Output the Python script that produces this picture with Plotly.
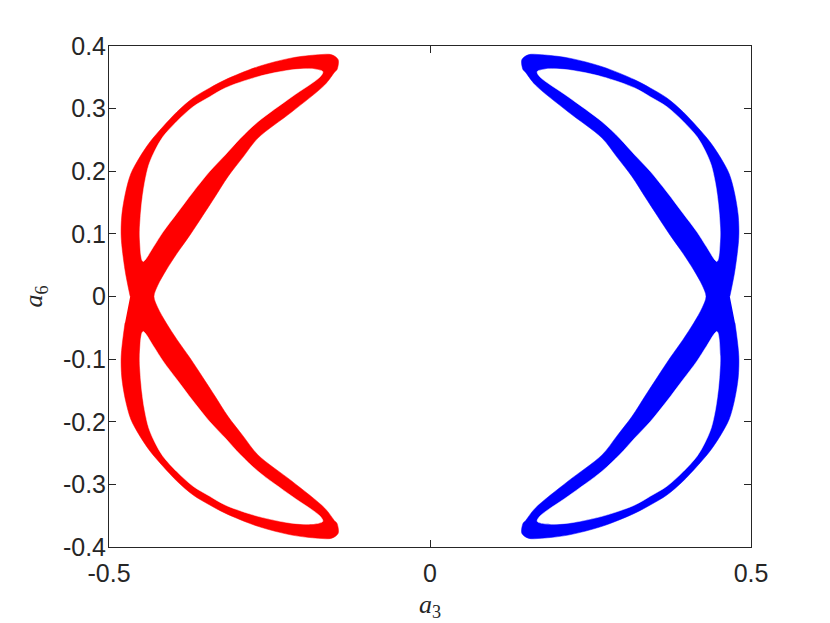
import plotly.graph_objects as go

# Outer silhouette of the red (a3<0) trajectory band, upper half (a6>=0),
# traced from the left notch at the crossing to the right notch.
red_outer_x = [-0.467, -0.475, -0.481, -0.480, -0.474, -0.466, -0.453, -0.436, -0.416, -0.394,
               -0.369, -0.343, -0.319, -0.268, -0.215, -0.174, -0.153, -0.143, -0.145, -0.148,
               -0.164, -0.215, -0.268, -0.291, -0.315, -0.335, -0.354, -0.374, -0.394, -0.411,
               -0.424, -0.430]
red_outer_y = [0.000, 0.042, 0.095, 0.130, 0.167, 0.196, 0.221, 0.247, 0.271, 0.295,
               0.317, 0.333, 0.346, 0.367, 0.381, 0.386, 0.386, 0.378, 0.362, 0.359,
               0.338, 0.295, 0.253, 0.223, 0.191, 0.159, 0.129, 0.098, 0.069, 0.042,
               0.018, 0.000]

# Inner (empty) loop of the upper lobe
red_hole_x = [-0.447, -0.452, -0.450, -0.445, -0.438, -0.428, -0.416, -0.394, -0.369, -0.343,
              -0.319, -0.268, -0.215, -0.179, -0.167, -0.171, -0.215, -0.268, -0.296, -0.319,
              -0.343, -0.369, -0.394, -0.416, -0.431, -0.447]
red_hole_y = [0.056, 0.095, 0.138, 0.178, 0.210, 0.234, 0.255, 0.280, 0.303, 0.319,
              0.333, 0.351, 0.362, 0.363, 0.359, 0.351, 0.319, 0.279, 0.252, 0.226,
              0.200, 0.167, 0.133, 0.103, 0.079, 0.056]

x_ticks = [-0.5, 0, 0.5]
x_tick_text = ["-0.5", "0", "0.5"]
y_ticks = [-0.4, -0.3, -0.2, -0.1, 0, 0.1, 0.2, 0.3, 0.4]
y_tick_text = ["-0.4", "-0.3", "-0.2", "-0.1", "0", "0.1", "0.2", "0.3", "0.4"]


def full_outline(xs, ys):
    # upper half, then the lower half (mirror in a6) traversed back
    fx = list(xs) + [x for x in reversed(xs[1:-1])]
    fy = list(ys) + [-y for y in reversed(ys[1:-1])]
    return fx, fy


fig = go.Figure()

for sign, color in [(1, "#ff0000"), (-1, "#0000ff")]:
    ox, oy = full_outline(red_outer_x, red_outer_y)
    fig.add_trace(go.Scatter(x=[sign * v for v in ox], y=oy, mode="lines",
                             fill="toself", fillcolor=color,
                             line=dict(color=color, width=0.5, shape="spline", smoothing=0.9),
                             hoverinfo="skip", showlegend=False))
    for ysign in (1, -1):
        fig.add_trace(go.Scatter(x=[sign * v for v in red_hole_x],
                                 y=[ysign * v for v in red_hole_y], mode="lines",
                                 fill="toself", fillcolor="white",
                                 line=dict(color="white", width=0.5, shape="spline", smoothing=0.9),
                                 hoverinfo="skip", showlegend=False))

axis_common = dict(showline=True, linecolor="#262626", linewidth=1, mirror="ticks",
                   ticks="inside", ticklen=7, tickcolor="#262626", showgrid=False,
                   zeroline=False, tickfont=dict(family="Liberation Sans, Arial", size=25,
                                                 color="#262626"))

fig.update_xaxes(range=[-0.5, 0.5], tickvals=x_ticks, ticktext=x_tick_text,
                 title=dict(text="<i>a</i><sub>3</sub>",
                            font=dict(family="Liberation Serif, serif", size=26, color="#262626"),
                            standoff=8),
                 ticklabelstandoff=4, **axis_common)
fig.update_yaxes(range=[-0.4, 0.4], tickvals=y_ticks, ticktext=y_tick_text,
                 title=dict(text="<i>a</i><sub>6</sub>",
                            font=dict(family="Liberation Serif, serif", size=26, color="#262626"),
                            standoff=12),
                 ticklabelstandoff=-3, **axis_common)

fig.update_layout(width=830, height=623, margin=dict(l=101, r=87, t=38, b=84),
                  plot_bgcolor="white", paper_bgcolor="white")

fig.write_html("out.html")
